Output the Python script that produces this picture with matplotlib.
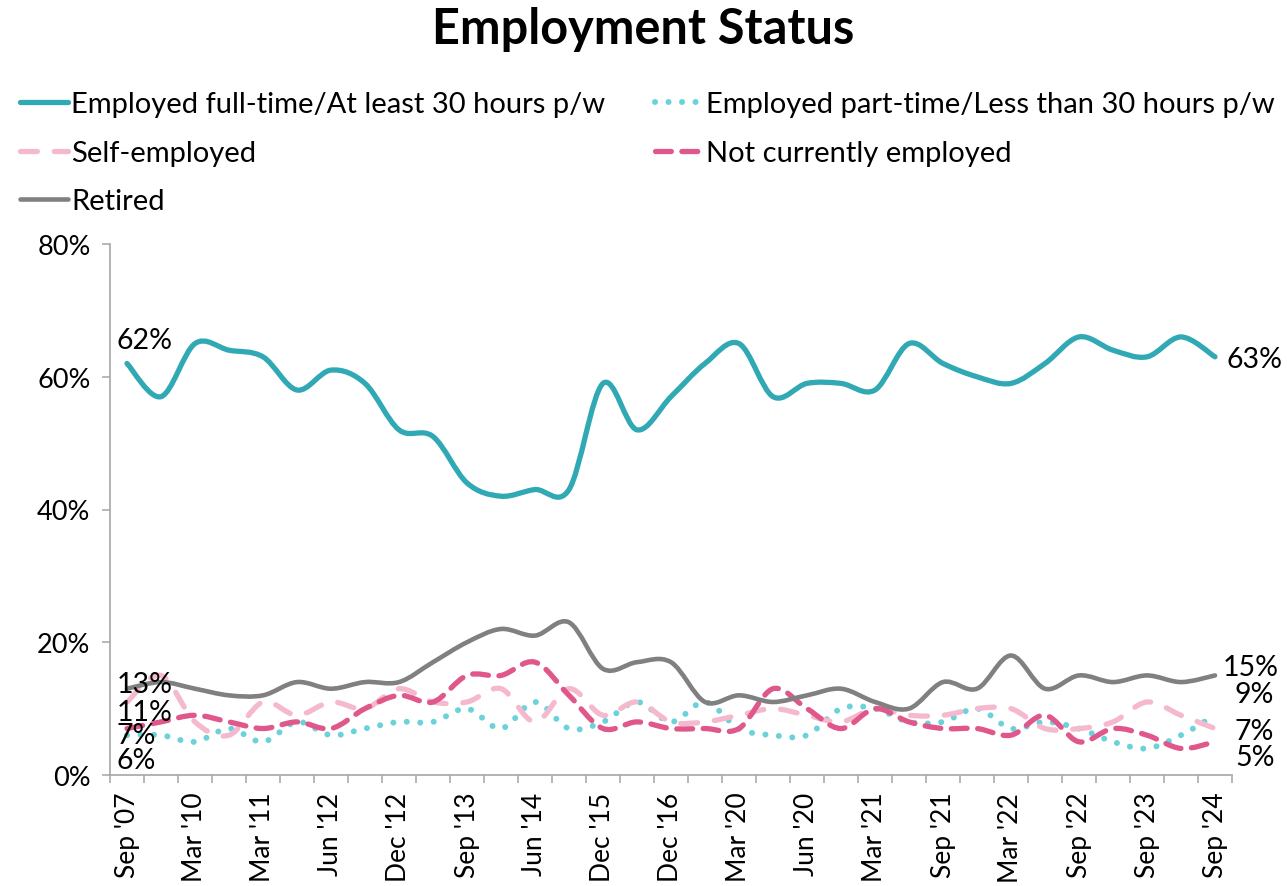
import numpy as np
import matplotlib
matplotlib.use('Agg')
import matplotlib.pyplot as plt
from matplotlib.path import Path
from matplotlib.patches import PathPatch
from matplotlib.lines import Line2D
from matplotlib.ticker import FuncFormatter

plt.rcParams['font.family'] = ['Lato', 'DejaVu Sans']

# ---------------- data ----------------
tick_labels = ["Sep '07", "Mar '10", "Mar '11", "Jun '12", "Dec '12", "Sep '13",
               "Jun '14", "Dec '15", "Dec '16", "Mar '20", "Jun '20", "Mar '21",
               "Sep '21", "Mar '22", "Sep '22", "Sep '23", "Sep '24"]

full_time = [62, 57, 65, 64, 63, 58, 61, 59, 52, 51, 44, 42, 43, 43, 59, 52, 57,
             62, 65, 57, 59, 59, 58, 65, 62, 60, 59, 62, 66, 64, 63, 66, 63]
part_time = [6, 6, 5, 7, 5, 8, 6, 7, 8, 8, 10, 7, 11, 7, 8, 11, 8,
             11, 7, 6, 6, 10, 10, 8, 8, 10, 7, 8, 7, 5, 4, 6, 9]
self_employed = [11, 15, 8, 6, 11, 9, 11, 10, 13, 11, 11, 13, 8, 13, 9, 11, 8,
                 8, 9, 10, 9, 8, 10, 9, 9, 10, 10, 7, 7, 8, 11, 9, 7]
not_employed = [7, 8, 9, 8, 7, 8, 7, 10, 12, 11, 15, 15, 17, 12, 7, 8, 7,
                7, 7, 13, 10, 7, 10, 8, 7, 7, 6, 9, 5, 7, 6, 4, 5]
retired = [13, 14, 13, 12, 12, 14, 13, 14, 14, 17, 20, 22, 21, 23, 16, 17, 17,
           11, 12, 11, 12, 13, 11, 10, 14, 13, 18, 13, 15, 14, 15, 14, 15]

series_names = ["Employed full-time/At least 30 hours p/w",
                "Employed part-time/Less than 30 hours p/w",
                "Self-employed",
                "Not currently employed",
                "Retired"]

# ---------------- styles ----------------
C_FT = '#31a9b4'
C_PT = '#6ad2d8'
C_SE = '#f5b9cd'
C_NE = '#e0578b'
C_RT = '#808080'

styles = {
    'ft': dict(color=C_FT, lw=3.8, ls='-'),
    'pt': dict(color=C_PT, lw=4.3, ls=(0, (0.01, 2.25))),
    'se': dict(color=C_SE, lw=3.8, ls=(0, (3.2, 3.2))),
    'ne': dict(color=C_NE, lw=3.8, ls=(0, (3.0, 2.0))),
    'rt': dict(color=C_RT, lw=3.3, ls='-'),
}


def smooth_path(y):
    x = np.arange(len(y), dtype=float)
    pts = np.column_stack([x, np.asarray(y, dtype=float)])
    n = len(pts)
    verts = [pts[0]]
    codes = [Path.MOVETO]
    for i in range(n - 1):
        p0 = pts[i - 1] if i > 0 else pts[i]
        p1 = pts[i]
        p2 = pts[i + 1]
        p3 = pts[i + 2] if i + 2 < n else pts[i + 1]
        c1 = p1 + (p2 - p0) / 6.0
        c2 = p2 - (p3 - p1) / 6.0
        verts += [c1, c2, p2]
        codes += [Path.CURVE4] * 3
    return Path(verts, codes)


fig = plt.figure(figsize=(12.87, 8.87), dpi=100)
L, R, T, B = 110, 1232, 245, 776
ax = fig.add_axes([L / 1287, 1 - B / 887, (R - L) / 1287, (B - T) / 887])

draw_order = [('pt', part_time), ('se', self_employed), ('ne', not_employed),
              ('rt', retired), ('ft', full_time)]
for key, vals in draw_order:
    st = styles[key]
    patch = PathPatch(smooth_path(vals), fill=False, edgecolor=st['color'],
                      lw=st['lw'], linestyle=st['ls'], capstyle='round',
                      joinstyle='round', zorder=3)
    ax.add_patch(patch)

n = len(full_time)
ax.set_xlim(-0.5, n - 0.5)
ax.set_ylim(0, 80)
ax.set_yticks([0, 20, 40, 60, 80])
ax.yaxis.set_major_formatter(FuncFormatter(lambda v, p: f"{int(v)}%"))
ax.set_xticks(np.arange(0, n, 2))
ax.set_xticklabels(tick_labels, rotation=90)
ax.set_xticks(np.arange(-0.5, n, 1), minor=True)
ax.tick_params(axis='x', which='major', length=0, pad=12, labelsize=19)
ax.tick_params(axis='x', which='minor', length=6, width=1.1, color='#a6a6a6', direction='out')
ax.tick_params(axis='y', which='major', length=6, width=1.1, color='#a6a6a6', pad=8, labelsize=19.5)
for s in ['top', 'right']:
    ax.spines[s].set_visible(False)
for s in ['left', 'bottom']:
    ax.spines[s].set_color('#a6a6a6')
    ax.spines[s].set_linewidth(1.2)

# ---------------- data labels ----------------
lab_fs = 20.5
def lab(idx, vals, dx_px, dy_px, ha='left'):
    ax.annotate(f"{vals[idx]}%", xy=(idx, vals[idx]), xytext=(dx_px * 0.72, dy_px * 0.72),
                textcoords='offset points', ha=ha, va='center', fontsize=lab_fs,
                color='black', zorder=5, annotation_clip=False)

last = n - 1
lab(0, full_time, -10, 23)
lab(0, retired, -10, 5)
lab(0, self_employed, -10, -10)
lab(0, not_employed, -10, -6)
lab(0, part_time, -10, -25)
lab(last, full_time, 12, -2)
lab(last, retired, 8, 8)
lab(last, part_time, 20, 21)
lab(last, self_employed, 20, -2)
lab(last, not_employed, 20, -15)

# ---------------- title & legend ----------------
fig.text(0.5, 1 - 30 / 887, "Employment Status", ha='center', va='center',
         fontsize=35, fontweight='bold')

def handle(key):
    st = styles[key]
    return Line2D([], [], color=st['color'], lw=st['lw'], linestyle=st['ls'],
                  dash_capstyle='round', solid_capstyle='round')

handles = [handle('ft'), handle('se'), handle('rt'), handle('pt'), handle('ne')]
labels = [series_names[0], series_names[2], series_names[4], series_names[1], series_names[3]]
fig.legend(handles, labels, ncol=2, loc='upper left', bbox_to_anchor=(20 / 1287, 1 - 92 / 887),
           frameon=False, fontsize=21, handlelength=1.65, handletextpad=0.1,
           columnspacing=1.7, labelspacing=0.78, borderaxespad=0, borderpad=0)

fig.savefig('out.png', dpi=100)
